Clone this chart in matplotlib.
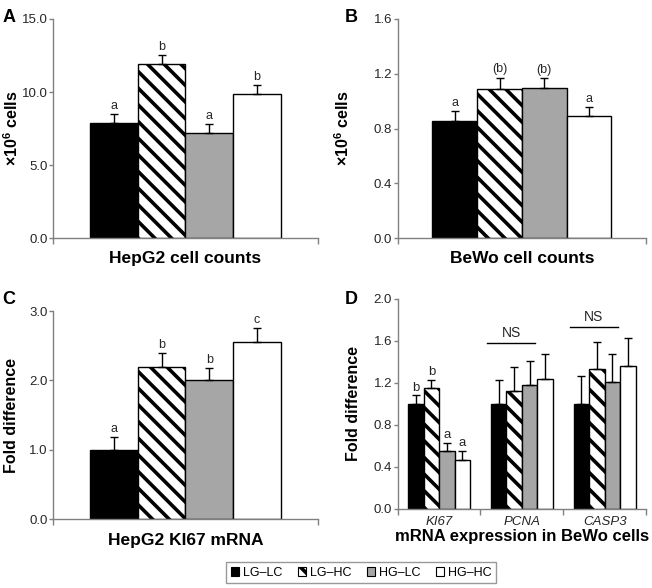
import matplotlib
matplotlib.use("Agg")
import matplotlib.pyplot as plt
from matplotlib.patches import Patch
import numpy as np

plt.rcParams['font.family'] = ['Liberation Sans', 'DejaVu Sans']
plt.rcParams['mathtext.fontset'] = 'custom'
plt.rcParams['mathtext.rm'] = 'Liberation Sans'
plt.rcParams['mathtext.bf'] = 'Liberation Sans:bold'
plt.rcParams['hatch.linewidth'] = 2.6

groups = ["LG\u2013LC", "LG\u2013HC", "HG\u2013LC", "HG\u2013HC"]
colors = ["black", "white", "#a6a6a6", "white"]
hatches = ["", "\\\\", "", ""]

# panel A: HepG2 cell counts
a_vals = [7.9, 11.95, 7.18, 9.83]
a_err = [0.58, 0.6, 0.6, 0.63]
a_lett = ["a", "b", "a", "b"]

# panel B: BeWo cell counts
b_vals = [0.856, 1.088, 1.093, 0.89]
b_err = [0.073, 0.084, 0.078, 0.07]
b_lett = ["a", "(b)", "(b)", "a"]

# panel C: HepG2 KI67 mRNA
c_vals = [1.0, 2.2, 2.0, 2.55]
c_err = [0.18, 0.19, 0.18, 0.2]
c_lett = ["a", "b", "b", "c"]

# panel D: mRNA expression in BeWo cells
genes = ["KI67", "PCNA", "CASP3"]
d_vals = [[1.0, 1.0, 1.0],
          [1.15, 1.118, 1.331],
          [0.547, 1.18, 1.204],
          [0.468, 1.236, 1.36]]
d_err = [[0.08, 0.232, 0.264],
         [0.082, 0.236, 0.262],
         [0.083, 0.23, 0.267],
         [0.086, 0.235, 0.267]]
d_lett = ["b", "b", "a", "a"]
ns_y = [1.583, 1.736]

spine_col = "#808080"
txt_col = "#262626"
cells_lab = r"$\mathbf{\times 10^{6}}$ cells"

fig = plt.figure(figsize=(6.52, 5.88), dpi=100)
axA = fig.add_axes([0.0813, 0.5952, 0.4064, 0.3725])
axB = fig.add_axes([0.610, 0.5952, 0.3808, 0.3725])
axC = fig.add_axes([0.0813, 0.1168, 0.4064, 0.3542])
axD = fig.add_axes([0.610, 0.1349, 0.3808, 0.3566])


def style(ax, ymax, step, fmt):
    for s in ["top", "right"]:
        ax.spines[s].set_visible(False)
    for s in ["left", "bottom"]:
        ax.spines[s].set_color(spine_col)
        ax.spines[s].set_linewidth(1)
    ax.set_ylim(0, ymax)
    ticks = np.arange(0, ymax + step / 2, step)
    ax.set_yticks(ticks)
    ax.set_yticklabels([fmt.format(t) for t in ticks])
    ax.tick_params(axis="y", colors=spine_col, labelcolor=txt_col,
                   labelsize=9.5, length=3, width=1, pad=1)
    ax.tick_params(axis="x", colors=spine_col, length=4, width=1)


def single(ax, vals, err, lett, ymax, step, fmt, xlabel, ylabel, ylab_x):
    w = 0.18
    for i in range(4):
        x = 0.5 + (i - 1.5) * w
        ax.bar(x, vals[i], w, color=colors[i], edgecolor="black",
               hatch=hatches[i], linewidth=1, zorder=2)
        ax.errorbar(x, vals[i], yerr=[[0], [err[i]]], fmt="none",
                    ecolor="black", elinewidth=1, capsize=3, capthick=1, zorder=3)
        ax.annotate(lett[i], (x, vals[i] + err[i]), xytext=(0, 1.5),
                    textcoords="offset points", ha="center", va="bottom",
                    fontsize=9, color=txt_col)
    ax.set_xlim(0, 1)
    style(ax, ymax, step, fmt)
    ax.set_xticks([0, 1])
    ax.set_xticklabels([])
    ax.set_xlabel(xlabel, fontsize=12.5, fontweight="bold", labelpad=2)
    ax.set_ylabel(ylabel, fontsize=11.5, fontweight="bold", va="center")
    ax.yaxis.set_label_coords(ylab_x, 0.5)


single(axA, a_vals, a_err, a_lett, 15, 5, "{:.1f}",
       "HepG2 cell counts", cells_lab, -0.155)
single(axB, b_vals, b_err, b_lett, 1.6, 0.4, "{:.1f}",
       "BeWo cell counts", cells_lab, -0.22)
single(axC, c_vals, c_err, c_lett, 3.0, 1.0, "{:.1f}",
       "HepG2 KI67 mRNA", "Fold difference", -0.155)

# panel D
w = 0.1875
x0 = np.arange(3) + 0.5
for i in range(4):
    xs = x0 + (i - 1.5) * w
    axD.bar(xs, d_vals[i], w, color=colors[i], edgecolor="black",
            hatch=hatches[i], linewidth=1, zorder=2)
    axD.errorbar(xs, d_vals[i], yerr=[[0] * 3, d_err[i]], fmt="none",
                 ecolor="black", elinewidth=1, capsize=3, capthick=1, zorder=3)
    axD.annotate(d_lett[i], (xs[0], d_vals[i][0] + d_err[i][0]), xytext=(0, 1),
                 textcoords="offset points", ha="center", va="bottom",
                 fontsize=9.5, color=txt_col)
for j, y in zip([1, 2], ns_y):
    axD.plot([x0[j] - 0.42, x0[j] + 0.16], [y, y], color="black", lw=1)
    axD.text(x0[j] - 0.13, y + 0.03, "NS", ha="center", va="bottom",
             fontsize=10, color=txt_col)
axD.set_xlim(0, 3)
style(axD, 2.0, 0.4, "{:.1f}")
axD.set_xticks([0, 1, 2, 3])
axD.set_xticklabels([])
axD.set_xticks(x0, minor=True)
axD.set_xticklabels(genes, minor=True, style="italic", fontsize=9.5, color=txt_col)
axD.tick_params(axis="x", which="minor", length=0, pad=5)
axD.set_xlabel("mRNA expression in BeWo cells", fontsize=12, fontweight="bold", labelpad=1)
axD.set_ylabel("Fold difference", fontsize=11.5, fontweight="bold", va="center")
axD.yaxis.set_label_coords(-0.18, 0.5)

for lab, x, y in [("A", 0.004, 0.985), ("B", 0.528, 0.985),
                  ("C", 0.004, 0.505), ("D", 0.528, 0.505)]:
    fig.text(x, y, lab, fontsize=13, fontweight="bold", va="top", ha="left")

handles = [Patch(facecolor=colors[i], edgecolor="black", hatch=hatches[i], linewidth=0.8)
           for i in range(4)]
leg = fig.legend(handles, groups, loc="center", bbox_to_anchor=(0.554, 0.026),
                 ncol=4, fontsize=9, frameon=True, fancybox=False,
                 handlelength=0.7, handleheight=0.7, handletextpad=0.3,
                 columnspacing=1.2, borderpad=0.35)
leg.get_frame().set_edgecolor(spine_col)
leg.get_frame().set_linewidth(1)

fig.savefig("out.png", dpi=100)
